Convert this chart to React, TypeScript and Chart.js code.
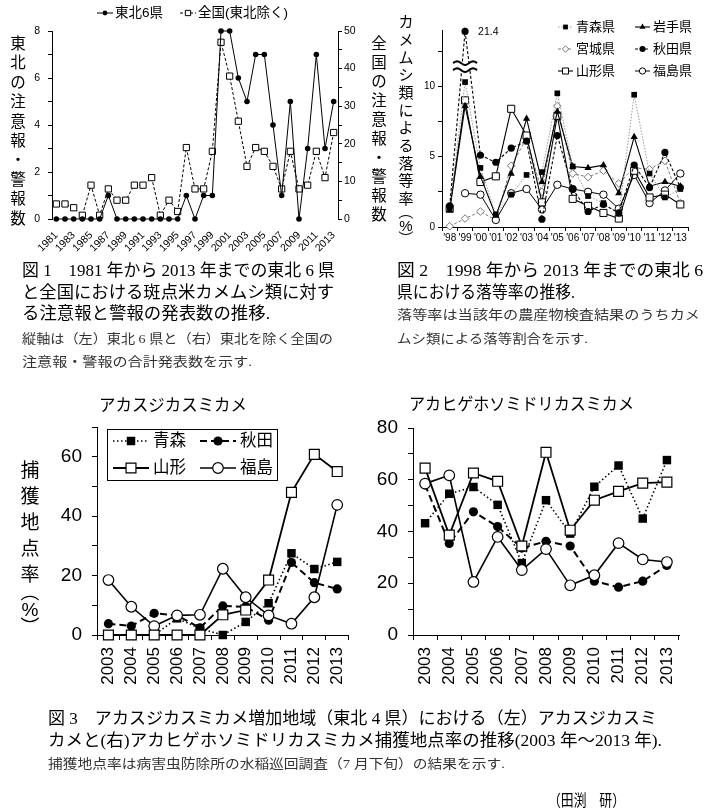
import React, { useEffect, useRef } from 'react';
import { Chart, registerables } from 'chart.js';

Chart.register(...registerables);

const SANS = "'Liberation Sans', 'Noto Sans CJK JP', sans-serif";
const JP = "'Noto Sans CJK JP', sans-serif";
const SERIF = "'Liberation Serif', 'Noto Sans CJK JP', serif";

// ---------------- Figure 1 data ----------------
const fig1Years = ['1981', '1982', '1983', '1984', '1985', '1986', '1987', '1988', '1989', '1990', '1991',
  '1992', '1993', '1994', '1995', '1996', '1997', '1998', '1999', '2000', '2001', '2002', '2003',
  '2004', '2005', '2006', '2007', '2008', '2009', '2010', '2011', '2012', '2013'];
const fig1Tohoku6 = [0, 0, 0, 0, 0, 0, 1, 0, 0, 0, 0, 0, 0, 0, 0, 1, 0, 1, 1, 8, 8, 6, 5, 7, 7, 4, 1, 5, 0, 3, 7, 3, 5];
const fig1National = [4, 4, 3, 1, 9, 1, 8, 5, 5, 9, 9, 11, 1, 5, 2, 19, 8, 8, 18, 47, 38, 26, 14, 19, 18, 14, 8, 18, 8, 9, 18, 11, 23];
const fig1Labels = ['東北6県', '全国(東北除く)'];

// ---------------- Figure 2 data ----------------
const fig2Years = ["'98", "'99", "'00", "'01", "'02", "'03", "'04", "'05", "'06", "'07", "'08", "'09", "'10", "'11", "'12", "'13"];
const fig2Aomori = [1.4, 10.3, 4.2, 0.9, 2.3, 3.7, 3.9, 9.5, 4.3, 2.2, 1.7, 0.95, 9.4, 3.8, 2.1, 2.7];
const fig2Iwate = [1.2, 8.6, 3.6, 0.8, 3.8, 7.7, 3.2, 8.2, 4.3, 4.2, 4.4, 2.4, 6.4, 2.9, 3.2, 2.9];
const fig2Miyagi = [0.05, 0.6, 1.1, 0.5, 4.35, 6.3, 2.5, 8.6, 3.8, 3.55, 4.0, 3.1, 4.2, 4.1, 4.7, 1.7];
const fig2Akita = [1.5, 21.4, 5.1, 4.6, 5.6, 6.1, 0.55, 6.5, 2.7, 1.1, 1.6, 1.0, 4.4, 2.8, 5.3, 2.8];
const fig2Yamagata = [1.3, 9.0, 3.2, 3.6, 8.4, 6.5, 1.75, 7.9, 2.0, 1.5, 1.0, 0.6, 4.0, 2.1, 2.3, 1.6];
const fig2Fukushima = [null, 2.4, 2.3, 0.5, 2.4, 2.7, 1.25, 3.0, 2.7, 2.5, 2.3, 1.3, 3.7, 1.7, 2.6, 3.8];
const fig2Labels = ['青森県', '岩手県', '宮城県', '秋田県', '山形県', '福島県'];
const FIG2_BREAK = 12; // values above this are drawn past the axis break
const FIG2_TOP = 13.9; // axis position used for values past the break
const FIG2_BREAK_MARK = 11.4;

// ---------------- Figure 3 data ----------------
const fig3Years = ['2003', '2004', '2005', '2006', '2007', '2008', '2009', '2010', '2011', '2012', '2013'];
const fig3Labels = ['青森', '秋田', '山形', '福島'];
// アカスジカスミカメ
const fig3aAomori = [0, 0, 0, 5.6, 2.2, 0, 4.4, 10.7, 27.5, 22.2, 24.6];
const fig3aAkita = [3.8, 3.0, 7.3, 6.6, 2.4, 9.8, 9.5, 5.0, 24.4, 17.6, 15.5];
const fig3aYamagata = [0, 0, 0, 0, 0, 6.8, 8.4, 18.5, 48, 60.8, 55];
const fig3aFukushima = [18.5, 9.5, 3.0, 6.6, 6.8, 22.3, 12.7, 6.6, 3.8, 12.7, 43.8];
// アカヒゲホソミドリカスミカメ
const fig3bAomori = [43.2, 54.6, 57.2, 50.3, 27.8, 52.1, 39.2, 57.3, 65.5, 45, 67.6];
const fig3bAkita = [58, 35.4, 47.6, 41.9, 33.6, 36.2, 34.4, 20.8, 18.5, 20.8, 26.9];
const fig3bYamagata = [64.5, 38.6, 62.6, 59.4, 34.4, 70.6, 40.5, 52.1, 55.5, 58.7, 59.1];
const fig3bFukushima = [58.5, 61.7, 20.5, 37.9, 25.1, 33.2, 19.2, 23.1, 35.5, 29.2, 28.2];

// ---------------- helpers ----------------
function drawMarker(ctx: CanvasRenderingContext2D, style: string, x: number, y: number, r: number,
  fill: string, stroke: string, lw: number) {
  ctx.save();
  ctx.setLineDash([]);
  ctx.beginPath();
  if (style === 'circle') ctx.arc(x, y, r, 0, Math.PI * 2);
  else if (style === 'rect') { const s = r * Math.SQRT1_2; ctx.rect(x - s, y - s, 2 * s, 2 * s); }
  else if (style === 'rectRot') { ctx.moveTo(x - r, y); ctx.lineTo(x, y - r); ctx.lineTo(x + r, y); ctx.lineTo(x, y + r); ctx.closePath(); }
  else if (style === 'triangle') {
    for (let k = 0; k < 3; k++) {
      const a = (k * 2 * Math.PI) / 3;
      const px = x + Math.sin(a) * r;
      const py = y - Math.cos(a) * r;
      if (k === 0) ctx.moveTo(px, py); else ctx.lineTo(px, py);
    }
    ctx.closePath();
  }
  ctx.fillStyle = fill;
  ctx.fill();
  if (lw > 0) { ctx.lineWidth = lw; ctx.strokeStyle = stroke; ctx.stroke(); }
  ctx.restore();
}

type LegendCfg = {
  items: { ds: number; x: number; y: number }[];
  sample: number;
  gap: number;
  font: string;
  markerScale?: number;
  box?: [number, number, number, number];
};

function legendPlugin(cfg: LegendCfg) {
  return {
    id: 'customLegend',
    afterDraw(chart: any) {
      const ctx: CanvasRenderingContext2D = chart.ctx;
      ctx.save();
      if (cfg.box) {
        const [bx, by, bw, bh] = cfg.box;
        ctx.fillStyle = '#fff';
        ctx.fillRect(bx, by, bw, bh);
        ctx.strokeStyle = '#000';
        ctx.lineWidth = 1;
        ctx.strokeRect(bx + 0.5, by + 0.5, bw, bh);
      }
      for (const it of cfg.items) {
        const ds = chart.data.datasets[it.ds];
        ctx.beginPath();
        ctx.setLineDash(ds.borderDash || []);
        ctx.strokeStyle = ds.borderColor;
        ctx.lineWidth = ds.borderWidth;
        ctx.moveTo(it.x, it.y);
        ctx.lineTo(it.x + cfg.sample, it.y);
        ctx.stroke();
        ctx.setLineDash([]);
        drawMarker(ctx, ds.pointStyle, it.x + cfg.sample / 2, it.y, ds.pointRadius * (cfg.markerScale || 1),
          ds.pointBackgroundColor, ds.pointBorderColor, ds.pointBorderWidth);
        ctx.fillStyle = '#000';
        ctx.font = cfg.font;
        ctx.textBaseline = 'middle';
        ctx.textAlign = 'left';
        ctx.fillText(ds.label, it.x + cfg.sample + cfg.gap, it.y + 0.5);
      }
      ctx.restore();
    },
  };
}

const fig2BreakPlugin = {
  id: 'fig2Break',
  afterDatasetsDraw(chart: any) {
    const ctx: CanvasRenderingContext2D = chart.ctx;
    const xs = chart.scales.x;
    const ys = chart.scales.y;
    fig2Akita.forEach((v, i) => {
      if (v == null || v <= FIG2_BREAK) return;
      const x = xs.getPixelForValue(i);
      const yb = ys.getPixelForValue(FIG2_BREAK_MARK);
      ctx.save();
      ctx.fillStyle = '#fff';
      ctx.fillRect(x - 12, yb - 3.5, 24, 7);
      ctx.strokeStyle = '#000';
      ctx.lineWidth = 2;
      for (const dy of [-3.5, 3.5]) {
        ctx.beginPath();
        for (let k = 0; k <= 24; k++) {
          const px = x - 12 + k;
          const py = yb + dy + Math.sin((k / 24) * Math.PI * 2 * 1.5 + Math.PI) * 1.8;
          if (k === 0) ctx.moveTo(px, py); else ctx.lineTo(px, py);
        }
        ctx.stroke();
      }
      const yp = ys.getPixelForValue(FIG2_TOP);
      ctx.fillStyle = '#000';
      ctx.font = `10.5px ${SANS}`;
      ctx.textBaseline = 'middle';
      ctx.textAlign = 'left';
      ctx.fillText(String(v), x + 13, yp + 1);
      ctx.restore();
    });
  },
};

function ChartBox({ left, top, width, height, make }: { left: number; top: number; width: number; height: number; make: () => any }) {
  const ref = useRef<HTMLCanvasElement>(null);
  useEffect(() => {
    const chart = new Chart(ref.current as HTMLCanvasElement, make());
    return () => chart.destroy();
  }, []);
  return (
    <canvas ref={ref} width={width} height={height}
      style={{ position: 'absolute', left, top, width, height, display: 'block' }} />
  );
}

const baseOpts = {
  responsive: false,
  animation: false,
  events: [],
  plugins: { legend: { display: false }, tooltip: { enabled: false }, title: { display: false } },
};

function tickGrid(len: number, offset = false) {
  return { drawOnChartArea: false, drawTicks: true, tickLength: len, color: '#000', lineWidth: 1, offset };
}
const border = { display: true, color: '#000', width: 1 };

// ---------------- Figure 1 ----------------
function makeFig1() {
  return {
    type: 'line',
    data: {
      labels: fig1Years,
      datasets: [
        { label: fig1Labels[0], data: fig1Tohoku6, yAxisID: 'y', borderColor: '#000', borderWidth: 1,
          pointStyle: 'circle', pointRadius: 2.8, pointBackgroundColor: '#000', pointBorderColor: '#000',
          pointBorderWidth: 0, clip: false, order: 1 },
        { label: fig1Labels[1], data: fig1National, yAxisID: 'y2', borderColor: '#000', borderWidth: 1,
          borderDash: [3, 2], pointStyle: 'rect', pointRadius: 4.4, pointBackgroundColor: '#fff',
          pointBorderColor: '#000', pointBorderWidth: 1, clip: false, order: 2 },
      ],
    },
    options: {
      ...baseOpts,
      layout: { padding: { top: 31, left: 0, right: 0, bottom: 0 } },
      scales: {
        x: {
          type: 'category', offset: true,
          grid: { display: false, drawTicks: false },
          border: { display: false },
          ticks: { autoSkip: false, minRotation: 45, maxRotation: 45, padding: 10, color: '#000',
            font: { size: 10.5, family: SANS },
            callback: (_v: any, i: number) => (i % 2 === 0 ? fig1Years[i] : '') },
          afterFit: (s: any) => { s.height = 33; },
        },
        y: {
          position: 'left', min: 0, max: 8,
          ticks: { stepSize: 1, autoSkip: false, padding: 8, color: '#000', font: { size: 10.5, family: SANS },
            callback: (v: number) => (v % 2 === 0 ? String(v) : '') },
          grid: tickGrid(4), border,
          afterFit: (s: any) => { s.width = 52; },
        },
        y2: {
          position: 'right', min: 0, max: 50,
          ticks: { stepSize: 5, autoSkip: false, padding: 2, color: '#000', font: { size: 10.5, family: SANS },
            callback: (v: number) => (v % 10 === 0 ? String(v) : '') },
          grid: tickGrid(4), border,
          afterFit: (s: any) => { s.width = 27; },
        },
      },
    },
    plugins: [legendPlugin({
      items: [{ ds: 0, x: 97, y: 13 }, { ds: 1, x: 180, y: 13 }],
      sample: 16, gap: 2, font: `13.5px ${SANS}`, markerScale: 0.85,
    })],
  };
}

// ---------------- Figure 2 ----------------
function fig2Display(arr: (number | null)[]) {
  return arr.map((v) => (v != null && v > FIG2_BREAK ? FIG2_TOP : v));
}

function makeFig2() {
  const ds = (label: string, data: (number | null)[], o: any) => ({
    label, data: fig2Display(data), clip: false, spanGaps: false, borderColor: '#000', borderWidth: 1.1,
    pointBorderColor: '#000', pointBorderWidth: 1, pointBackgroundColor: '#000', ...o,
  });
  return {
    type: 'line',
    data: {
      labels: fig2Years,
      datasets: [
        ds(fig2Labels[0], fig2Aomori, { borderColor: '#9a9a9a', borderWidth: 1, borderDash: [1.5, 1.5], pointStyle: 'rect', pointRadius: 4, pointBorderWidth: 0, order: 2 }),
        ds(fig2Labels[1], fig2Iwate, { pointStyle: 'triangle', pointRadius: 4.2, pointBorderWidth: 0, order: 3 }),
        ds(fig2Labels[2], fig2Miyagi, { borderColor: '#7a7a7a', borderWidth: 1, borderDash: [3, 2], pointStyle: 'rectRot', pointRadius: 3.8, pointBackgroundColor: '#fff', pointBorderColor: '#777', order: 6 }),
        ds(fig2Labels[3], fig2Akita, { borderDash: [3, 2], pointStyle: 'circle', pointRadius: 3.6, pointBorderWidth: 0, order: 1 }),
        ds(fig2Labels[4], fig2Yamagata, { pointStyle: 'rect', pointRadius: 5, pointBackgroundColor: '#fff', order: 4 }),
        ds(fig2Labels[5], fig2Fukushima, { borderWidth: 1, pointStyle: 'circle', pointRadius: 3.7, pointBackgroundColor: '#fff', order: 5 }),
      ],
    },
    options: {
      ...baseOpts,
      layout: { padding: { top: 30, left: 0, right: 12, bottom: 0 } },
      scales: {
        x: {
          type: 'category', offset: true,
          grid: tickGrid(4, true), border,
          ticks: { autoSkip: false, minRotation: 0, maxRotation: 0, padding: 1, color: '#000', font: { size: 10, family: SANS } },
          afterFit: (s: any) => { s.height = 23; },
        },
        y: {
          min: 0, max: 14,
          ticks: { stepSize: 2.5, includeBounds: false, autoSkip: false, padding: 3, color: '#000', font: { size: 10, family: SANS },
            callback: (v: number) => (v % 5 === 0 ? String(v) : '') },
          grid: tickGrid(4), border,
          afterFit: (s: any) => { s.width = 62; },
        },
      },
    },
    plugins: [fig2BreakPlugin, legendPlugin({
      items: [
        { ds: 0, x: 178, y: 27 }, { ds: 1, x: 255, y: 27 },
        { ds: 2, x: 178, y: 49 }, { ds: 3, x: 255, y: 49 },
        { ds: 4, x: 178, y: 71 }, { ds: 5, x: 255, y: 71 },
      ],
      sample: 15, gap: 3, font: `13px ${SANS}`, markerScale: 0.85,
    })],
  };
}

// ---------------- Figure 3 ----------------
function fig3Sets(aomori: number[], akita: number[], yamagata: number[], fukushima: number[]) {
  return [
    { label: fig3Labels[0], data: aomori, clip: false, borderColor: '#000', borderWidth: 1.6, borderDash: [1.5, 2.5],
      pointStyle: 'rect', pointRadius: 6, pointBackgroundColor: '#000', pointBorderColor: '#000', pointBorderWidth: 0, order: 4 },
    { label: fig3Labels[1], data: akita, clip: false, borderColor: '#000', borderWidth: 2, borderDash: [7, 4],
      pointStyle: 'circle', pointRadius: 4.6, pointBackgroundColor: '#000', pointBorderColor: '#000', pointBorderWidth: 0, order: 3 },
    { label: fig3Labels[2], data: yamagata, clip: false, borderColor: '#000', borderWidth: 1.8,
      pointStyle: 'rect', pointRadius: 7, pointBackgroundColor: '#fff', pointBorderColor: '#000', pointBorderWidth: 1.2, order: 1 },
    { label: fig3Labels[3], data: fukushima, clip: false, borderColor: '#000', borderWidth: 1.6,
      pointStyle: 'circle', pointRadius: 5.3, pointBackgroundColor: '#fff', pointBorderColor: '#000', pointBorderWidth: 1.2, order: 2 },
  ];
}

function fig3Scales(max: number, yWidth: number) {
  return {
    x: {
      type: 'category', offset: true,
      grid: tickGrid(5, true), border,
      ticks: { autoSkip: false, minRotation: 90, maxRotation: 90, padding: 7, color: '#000', font: { size: 17, family: SANS } },
      afterFit: (s: any) => { s.height = 65; },
    },
    y: {
      min: 0, max,
      ticks: { stepSize: 10, autoSkip: false, padding: 10, color: '#000', font: { size: 19, family: SANS },
        callback: (v: number) => (v % 20 === 0 ? String(v) : '') },
      grid: tickGrid(5), border,
      afterFit: (s: any) => { s.width = yWidth; },
    },
  };
}

function makeFig3a() {
  return {
    type: 'line',
    data: { labels: fig3Years, datasets: fig3Sets(fig3aAomori, fig3aAkita, fig3aYamagata, fig3aFukushima) },
    options: { ...baseOpts, layout: { padding: { top: 47, left: 0, right: 5, bottom: 0 } }, scales: fig3Scales(70, 97) },
    plugins: [legendPlugin({
      items: [{ ds: 0, x: 113, y: 61 }, { ds: 1, x: 200, y: 61 }, { ds: 2, x: 113, y: 88 }, { ds: 3, x: 200, y: 88 }],
      sample: 36, gap: 4, font: `16.5px ${SANS}`, box: [107, 49, 170, 51],
    })],
  };
}

function makeFig3b() {
  return {
    type: 'line',
    data: { labels: fig3Years, datasets: fig3Sets(fig3bAomori, fig3bAkita, fig3bYamagata, fig3bFukushima) },
    options: { ...baseOpts, layout: { padding: { top: 48, left: 0, right: 21, bottom: 0 } }, scales: fig3Scales(80, 48) },
  };
}

// ---------------- text overlay ----------------
function VText({ text, x, top, step, size, adv }: { text: string; x: number; top: number; step: number; size: number; adv?: Record<string, number> }) {
  const out: any[] = [];
  let y = top;
  Array.from(text).forEach((ch, i) => {
    const a = (adv && adv[ch]) || step;
    const cy = y + a / 2;
    const rot = ch === '（' || ch === '）';
    out.push(
      <text key={i} x={x} y={cy} fontSize={size} fontFamily={ch === '%' ? SANS : JP} textAnchor="middle"
        dominantBaseline="central" fill="#000" transform={rot ? `rotate(90 ${x} ${cy})` : undefined}>{ch}</text>
    );
    y += a;
  });
  return <g>{out}</g>;
}

function Line({ x, y, len, size, text, color = '#000' }: { x: number; y: number; len: number; size: number; text: string; color?: string }) {
  return (
    <text x={x} y={y} fontSize={size} fontFamily={SERIF} fill={color} textLength={len} lengthAdjust="spacingAndGlyphs"
      style={{ whiteSpace: 'pre' }}>{text}</text>
  );
}

export default function App() {
  return (
    <div style={{ position: 'absolute', left: 0, top: 0, width: 705, height: 809, background: '#fff', overflow: 'hidden' }}>
      <ChartBox left={0} top={0} width={365} height={252} make={makeFig1} />
      <ChartBox left={380} top={0} width={320} height={250} make={makeFig2} />
      <ChartBox left={0} top={380} width={365} height={320} make={makeFig3a} />
      <ChartBox left={365} top={380} width={335} height={320} make={makeFig3b} />
      <svg width={705} height={809} style={{ position: 'absolute', left: 0, top: 0, pointerEvents: 'none' }}>
        <VText text="東北の注意報・警報数" x={18} top={32.3} step={19.4} size={15.5} />
        <VText text="全国の注意報・警報数" x={379} top={32.5} step={19} size={15.5} />
        <VText text="カメムシ類による落等率（%）" x={406} top={11.8} step={17.7} size={15} adv={{ '（': 11, '%': 15, '）': 11 }} />
        <VText text="捕獲地点率（%）" x={30} top={455} step={26.2} size={19} adv={{ '（': 12, '%': 22, '）': 12 }} />

        <text x={99} y={411} fontSize={17} fontFamily={JP} textLength={148} lengthAdjust="spacingAndGlyphs">アカスジカスミカメ</text>
        <text x={409} y={410} fontSize={17} fontFamily={JP} textLength={225} lengthAdjust="spacingAndGlyphs">アカヒゲホソミドリカスミカメ</text>

        <Line x={22} y={276} len={313} size={16.5} text="図 1　1981 年から 2013 年までの東北 6 県" />
        <Line x={22} y={298} len={312} size={16.5} text="と全国における斑点米カメムシ類に対す" />
        <Line x={22} y={319} len={248} size={16.5} text="る注意報と警報の発表数の推移." />
        <Line x={22} y={343} len={311} size={13} color="#333" text="縦軸は（左）東北 6 県と（右）東北を除く全国の" />
        <Line x={22} y={366} len={230} size={13} color="#333" text="注意報・警報の合計発表数を示す." />

        <Line x={397} y={276} len={306} size={16.5} text="図 2　1998 年から 2013 年までの東北 6" />
        <Line x={397} y={298} len={178} size={16.5} text="県における落等率の推移." />
        <Line x={397} y={319} len={303} size={13} color="#333" text="落等率は当該年の農産物検査結果のうちカメ" />
        <Line x={397} y={343} len={191} size={13} color="#333" text="ムシ類による落等割合を示す." />

        <Line x={48} y={724} len={609} size={16.5} text="図 3　アカスジカスミカメ増加地域（東北 4 県）における（左）アカスジカスミ" />
        <Line x={48} y={746} len={614} size={16.5} text="カメと(右)アカヒゲホソミドリカスミカメ捕獲地点率の推移(2003 年～2013 年)." />
        <Line x={48} y={768} len={457} size={13} color="#333" text="捕獲地点率は病害虫防除所の水稲巡回調査（7 月下旬）の結果を示す." />
        <Line x={548} y={806} len={77} size={16} text="（田渕　研）" />
      </svg>
    </div>
  );
}
